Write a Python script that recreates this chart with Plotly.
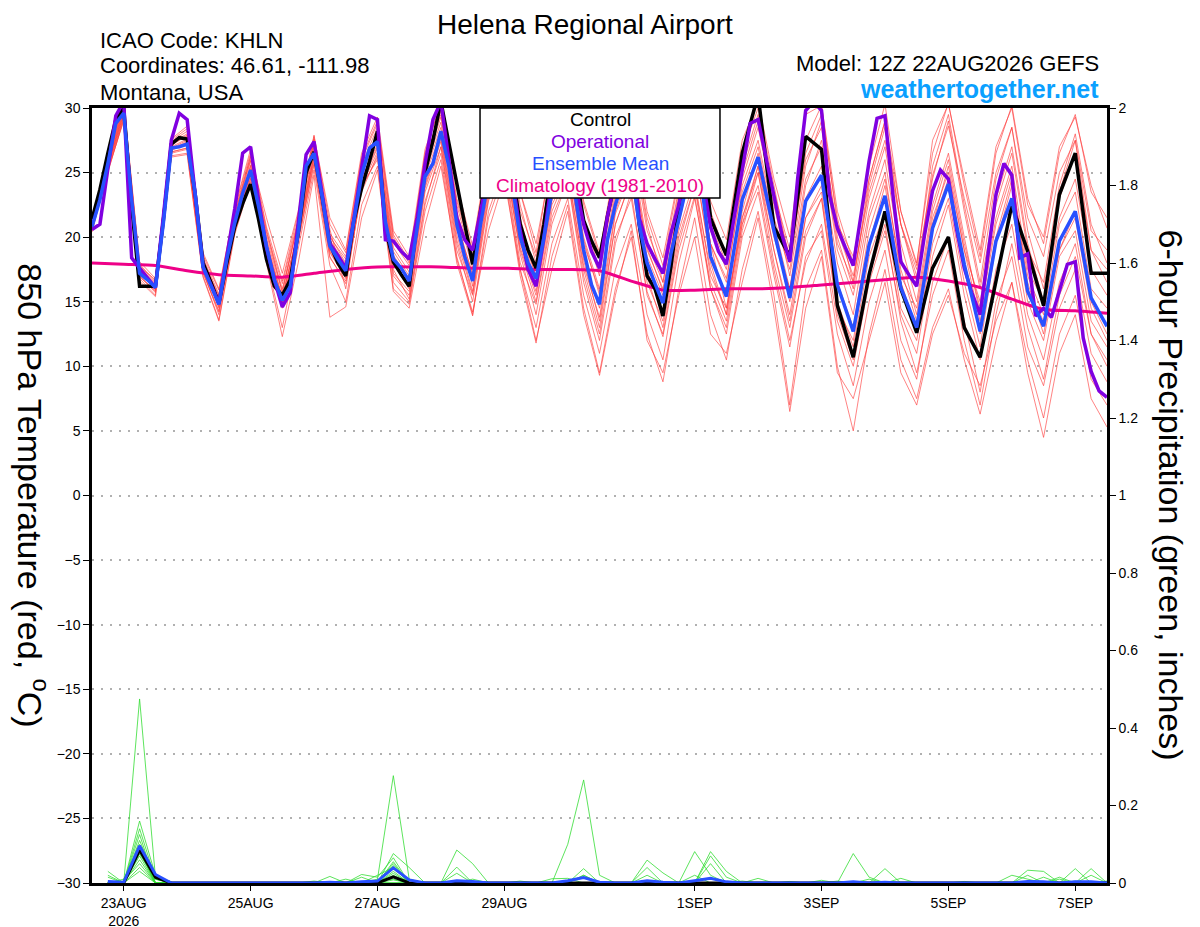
import pandas as pd
import plotly.graph_objects as go

# forecast hours: ensemble 3-hourly to 240h then 6-hourly, operational 3-hourly throughout
hours_ens = list(range(0, 241, 3)) + list(range(246, 385, 6))
hours_oper = list(range(0, 385, 3))
hours_mem = list(range(0, 385, 6))
hours_clim = list(range(0, 385, 12))
hours_pcp = list(range(6, 385, 6))

init = pd.Timestamp("2026-08-22 12:00")


def to_time(hours):
    return [init + pd.Timedelta(hours=h) for h in hours]


# 850 hPa temperature (C)
control_t = [
    21.4, 23.7, 26.5, 29.1, 30.0, 22.4, 16.2, 16.2,
    16.2, 21.3, 27.2, 27.7, 27.6, 23.4, 18.0, 16.5,
    14.9, 18.0, 20.8, 22.6, 24.1, 21.4, 18.3, 16.2,
    15.5, 16.7, 20.3, 25.0, 26.6, 23.2, 19.5, 18.0,
    17.0, 21.2, 23.8, 25.9, 28.2, 20.7, 18.1, 17.1,
    16.2, 21.2, 25.0, 27.5, 30.5, 27.3, 24.2, 20.8,
    17.9, 22.0, 26.0, 28.5, 29.0, 25.0, 21.0, 19.0,
    17.6, 21.0, 25.5, 27.5, 28.5, 25.0, 21.3, 19.7,
    18.4, 21.6, 24.5, 27.0, 28.0, 21.0, 17.0, 16.0,
    13.9, 17.7, 22.3, 26.0, 28.5, 27.0, 21.5, 20.0,
    18.6,
    26.5, 31.0, 20.8, 18.5, 27.8, 26.8, 14.7, 10.7, 17.1, 22.0, 16.0, 12.6,
    17.6, 20.0, 13.0, 10.7, 16.6, 22.5, 18.9, 14.7, 23.3, 26.5, 17.2, 17.2,
]

mean_t = [
    20.8, 22.9, 25.7, 28.8, 29.6, 22.9, 17.2, 16.7,
    16.1, 21.1, 26.9, 27.0, 27.2, 23.4, 17.7, 16.3,
    14.8, 18.3, 21.1, 23.4, 25.2, 22.4, 19.3, 16.7,
    15.1, 16.2, 20.3, 25.5, 26.5, 23.2, 19.3, 18.3,
    17.4, 21.2, 24.8, 26.9, 27.4, 21.2, 18.3, 17.6,
    16.6, 20.7, 24.7, 25.7, 28.2, 25.5, 21.0, 18.5,
    16.6, 21.0, 24.5, 26.5, 27.5, 24.0, 20.0, 18.0,
    16.8, 20.0, 23.5, 25.5, 26.5, 23.0, 19.0, 16.3,
    14.8, 19.8, 22.5, 24.5, 25.5, 21.0, 18.0, 16.4,
    14.9, 18.7, 21.5, 24.0, 25.5, 23.5, 18.5, 16.9,
    15.4,
    22.9, 26.2, 20.5, 15.3, 22.8, 24.8, 16.3, 12.7, 19.4, 23.2, 16.1, 13.0,
    20.7, 24.1, 17.9, 12.7, 19.7, 23.0, 15.8, 13.1, 19.7, 22.0, 15.3, 13.1,
]

oper_t = [
    20.6, 21.0, 25.3, 29.4, 30.5, 18.4, 17.6, 16.8,
    16.1, 21.6, 27.5, 29.6, 29.1, 23.4, 17.7, 16.3,
    14.9, 18.5, 22.2, 26.5, 27.0, 22.9, 19.2, 16.7,
    14.6, 15.7, 20.8, 26.4, 27.4, 23.4, 19.5, 18.6,
    17.6, 21.3, 25.4, 29.4, 29.1, 19.8, 19.7, 18.9,
    18.3, 21.5, 25.7, 29.1, 30.5, 26.0, 21.5, 19.8,
    19.0, 22.0, 25.0, 27.5, 28.5, 24.5, 20.5, 17.5,
    16.2, 20.0, 24.5, 27.0, 28.0, 24.0, 21.0, 18.9,
    17.6, 21.6, 24.5, 26.5, 27.5, 21.5, 19.5, 18.3,
    17.2, 20.3, 22.5, 25.5, 27.0, 24.5, 20.8, 18.9,
    17.9, 21.6, 25.4, 28.8, 29.1, 26.3, 23.2, 20.2,
    18.1, 24.6, 29.8, 30.5, 29.8, 23.3, 20.7, 19.2,
    17.8, 21.8, 25.9, 29.2, 29.4, 23.3, 18.1, 17.1,
    16.2, 20.2, 23.6, 25.2, 24.5, 20.7, 17.6, 15.6,
    14.0, 18.7, 23.3, 25.7, 24.8, 18.4, 18.7, 13.9,
    14.5, 13.8, 15.8, 17.9, 18.1, 12.2, 9.6, 8.1,
    7.6,
]

clim_t = [
    18.0, 17.9, 17.8, 17.4, 17.1, 17.0, 16.9, 17.2, 17.5, 17.7, 17.7,
    17.7, 17.6, 17.6, 17.5, 17.5, 17.4, 16.6, 15.9, 15.9, 16.0, 16.0,
    16.1, 16.3, 16.5, 16.7, 16.9, 16.6, 16.1, 15.2, 14.4, 14.3, 14.1,
]

# ensemble members, 6-hourly
members_t = [
    [21.0, 26.2, 30.4, 17.8, 16.5, 27.3, 28.0, 18.3, 15.3, 21.8, 26.0, 20.2,
     16.0, 21.0, 27.4, 20.0, 18.3, 25.6, 28.5, 19.6, 17.8, 25.9, 29.8, 22.5,
     18.0, 25.8, 29.0, 22.0, 18.5, 25.0, 28.3, 21.0, 17.0, 24.5, 27.8, 20.5,
     17.2, 23.8, 28.0, 21.0, 18.0, 25.0, 29.0, 23.0, 18.5, 26.0, 28.5, 20.5,
     17.0, 23.5, 27.5, 21.0, 17.5, 24.8, 28.6, 23.0, 18.0, 25.0, 28.5, 21.5,
     18.5, 25.0, 27.5, 20.5, 19.0],
    [20.5, 25.0, 29.2, 17.0, 15.8, 26.5, 26.8, 17.2, 14.2, 20.5, 24.6, 18.6,
     14.5, 19.6, 25.8, 18.5, 16.4, 23.8, 26.2, 17.0, 15.5, 23.5, 27.0, 19.5,
     15.0, 22.8, 25.8, 18.0, 14.8, 21.5, 24.6, 17.0, 12.5, 20.0, 23.0, 15.8,
     12.3, 19.0, 23.2, 16.0, 12.5, 20.0, 23.5, 17.0, 11.5, 18.5, 20.5, 12.5,
     8.5, 15.0, 19.0, 12.0, 9.0, 16.5, 20.0, 13.5, 8.0, 15.0, 18.5, 11.5,
     8.5, 14.5, 17.5, 11.0, 8.8],
    [20.9, 25.8, 29.9, 17.5, 16.2, 27.0, 27.6, 17.9, 14.6, 21.3, 25.5, 19.7,
     15.4, 20.6, 26.9, 19.8, 17.9, 25.2, 27.8, 18.9, 17.0, 25.3, 28.9, 21.6,
     16.2, 24.0, 26.6, 19.2, 15.5, 22.5, 25.0, 17.8, 13.8, 21.8, 25.0, 17.5,
     14.0, 21.0, 26.5, 19.5, 16.5, 24.5, 28.5, 22.5, 17.0, 24.5, 27.0, 19.0,
     15.5, 22.0, 26.0, 18.5, 14.0, 21.5, 25.0, 19.0, 13.5, 20.0, 22.5, 15.0,
     12.0, 18.5, 20.5, 13.5, 11.5],
    [20.6, 25.4, 29.3, 16.9, 15.9, 26.6, 26.9, 17.4, 14.0, 20.8, 24.8, 18.9,
     14.8, 19.9, 26.0, 18.8, 16.8, 24.0, 26.6, 17.5, 15.2, 22.8, 26.5, 18.5,
     14.0, 22.0, 25.5, 17.5, 13.0, 19.5, 23.0, 15.5, 11.0, 17.5, 21.0, 14.0,
     10.5, 18.0, 23.0, 16.5, 13.5, 21.0, 25.5, 20.0, 16.0, 24.0, 27.5, 19.5,
     16.5, 24.0, 28.5, 21.0, 17.0, 24.5, 29.0, 22.0, 16.0, 23.0, 27.0, 19.5,
     15.0, 23.5, 27.5, 19.0, 16.5],
    [21.2, 26.0, 30.1, 17.6, 16.4, 27.1, 27.9, 18.0, 15.5, 21.6, 25.9, 19.9,
     15.8, 21.3, 27.5, 20.3, 18.5, 26.0, 28.8, 20.0, 18.0, 26.5, 30.5, 23.0,
     19.0, 26.5, 29.8, 23.5, 19.5, 26.0, 29.5, 22.5, 18.5, 25.5, 28.5, 21.0,
     16.5, 23.0, 27.0, 19.5, 14.5, 21.0, 24.0, 17.5, 12.0, 18.0, 21.0, 13.5,
     10.0, 16.5, 20.5, 14.0, 11.0, 18.5, 22.5, 15.5, 10.5, 17.5, 21.0, 14.0,
     10.5, 16.5, 19.5, 12.5, 10.0],
    [20.7, 25.6, 29.5, 17.3, 16.0, 26.8, 27.4, 17.6, 14.9, 21.2, 25.3, 19.4,
     15.3, 20.4, 26.7, 19.6, 17.6, 25.0, 27.6, 18.6, 16.8, 25.0, 28.5, 21.3,
     17.0, 25.0, 28.0, 20.8, 17.5, 24.5, 27.5, 20.0, 16.0, 24.0, 27.0, 19.5,
     16.5, 23.5, 27.5, 20.5, 17.5, 25.5, 29.5, 23.5, 19.0, 27.5, 30.2, 22.0,
     18.0, 25.5, 30.3, 22.0, 18.0, 26.5, 30.4, 24.0, 18.5, 26.5, 30.2, 23.0,
     19.5, 26.5, 29.5, 23.5, 21.5],
    [20.4, 25.2, 29.0, 16.8, 15.5, 26.3, 26.5, 17.0, 13.6, 20.4, 24.5, 18.2,
     13.0, 19.0, 25.2, 17.8, 15.0, 22.5, 25.5, 16.0, 14.8, 22.0, 26.0, 18.0,
     13.9, 21.5, 25.0, 17.0, 11.8, 18.5, 22.5, 14.5, 9.5, 16.0, 20.0, 12.5,
     8.8, 16.0, 21.5, 14.0, 10.5, 17.5, 22.0, 15.5, 7.0, 16.0, 19.0, 10.0,
     5.0, 12.5, 17.5, 10.5, 7.5, 13.0, 16.0, 10.5, 6.3, 12.0, 16.5, 9.5,
     4.5, 11.0, 14.0, 7.5, 5.3],
    [20.8, 25.7, 29.7, 17.1, 16.1, 26.9, 27.1, 17.6, 14.7, 21.0, 25.1, 19.1,
     14.9, 20.2, 26.4, 19.2, 17.2, 24.6, 27.2, 18.1, 16.3, 24.2, 27.8, 20.6,
     16.9, 25.2, 28.6, 20.8, 16.3, 23.0, 26.0, 18.5, 14.5, 22.0, 25.5, 18.5,
     15.5, 22.5, 26.0, 18.0, 14.0, 22.0, 26.5, 20.5, 15.0, 21.5, 24.0, 16.5,
     13.0, 20.5, 24.5, 17.5, 13.5, 21.0, 24.5, 18.0, 12.5, 20.0, 24.5, 17.0,
     14.0, 21.0, 23.5, 16.0, 14.5],
    [21.1, 26.4, 30.3, 17.9, 16.6, 27.4, 28.2, 18.4, 15.6, 22.0, 26.2, 20.4,
     16.4, 21.4, 27.6, 20.6, 16.0, 24.0, 26.0, 16.5, 15.0, 22.5, 27.0, 19.0,
     15.5, 23.0, 26.0, 19.0, 15.0, 22.0, 25.0, 17.5, 13.0, 21.0, 24.5, 16.5,
     13.5, 20.5, 24.5, 17.0, 14.5, 21.5, 25.0, 19.0, 14.0, 21.5, 23.5, 15.0,
     11.5, 18.5, 22.0, 14.5, 12.0, 19.5, 23.0, 16.5, 11.5, 19.5, 24.0, 16.5,
     12.5, 19.0, 21.5, 14.5, 12.0],
    [20.9, 25.9, 30.0, 17.4, 16.3, 27.2, 27.8, 18.1, 15.1, 21.7, 26.3, 21.5,
     17.2, 22.0, 27.8, 21.5, 19.0, 26.5, 29.3, 20.5, 18.5, 26.8, 30.3, 24.0,
     19.3, 26.8, 30.0, 23.5, 18.8, 26.5, 29.8, 22.8, 18.8, 25.8, 29.0, 22.0,
     18.4, 24.8, 29.3, 22.8, 19.8, 27.5, 30.5, 24.5, 20.0, 29.5, 30.2, 21.0,
     18.5, 24.5, 29.0, 22.0, 17.8, 27.5, 30.3, 24.5, 19.0, 27.0, 30.0, 22.5,
     20.0, 27.0, 29.3, 24.0, 20.7],
    [20.5, 25.3, 29.4, 17.0, 15.7, 26.6, 26.9, 17.3, 14.3, 20.7, 24.9, 18.7,
     14.6, 19.7, 25.6, 18.4, 16.6, 23.5, 26.4, 17.2, 15.8, 23.8, 27.4, 19.8,
     15.6, 23.4, 26.5, 18.7, 14.0, 21.0, 24.5, 16.5, 12.0, 19.5, 23.5, 15.5,
     12.5, 19.5, 24.0, 16.0, 13.0, 20.5, 25.0, 18.0, 13.0, 20.0, 23.0, 14.0,
     10.5, 17.0, 21.0, 13.5, 9.5, 15.5, 19.0, 12.0, 7.0, 14.0, 19.5, 13.0,
     9.0, 15.5, 18.5, 12.5, 10.5],
    [20.6, 25.1, 29.1, 16.6, 15.4, 26.2, 26.4, 16.9, 13.5, 20.2, 24.3, 18.0,
     12.3, 18.0, 24.8, 13.8, 14.6, 21.5, 25.2, 15.8, 14.5, 21.0, 25.5, 18.3,
     14.2, 20.5, 24.5, 17.5, 12.0, 17.5, 22.0, 14.0, 9.3, 15.5, 20.5, 12.0,
     9.5, 15.5, 20.0, 12.5, 11.0, 16.5, 21.5, 14.5, 6.5, 14.5, 18.5, 9.5,
     7.5, 12.0, 16.5, 9.5, 7.0, 12.5, 15.5, 11.0, 8.5, 13.5, 16.5, 10.5,
     6.0, 12.5, 15.5, 9.0, 7.0],
    [21.0, 26.1, 30.2, 17.7, 16.7, 27.5, 28.4, 18.6, 15.9, 22.2, 26.5, 20.6,
     15.7, 21.2, 27.2, 20.1, 18.0, 25.4, 28.0, 19.2, 17.3, 25.6, 29.3, 22.0,
     17.6, 25.5, 28.5, 21.5, 16.8, 24.0, 27.0, 19.8, 15.5, 23.5, 26.5, 19.0,
     16.0, 22.5, 26.5, 19.5, 16.8, 24.0, 27.5, 21.5, 17.5, 25.5, 29.0, 20.0,
     16.0, 23.0, 27.0, 19.5, 15.0, 22.5, 26.5, 20.0, 14.0, 21.0, 25.0, 16.0,
     13.5, 19.0, 22.0, 15.0, 12.5],
    [20.7, 25.5, 29.6, 17.2, 16.0, 26.9, 27.5, 17.7, 14.8, 21.4, 25.6, 19.5,
     15.2, 20.5, 26.2, 19.0, 17.0, 24.5, 27.0, 18.5, 16.5, 24.8, 28.0, 21.0,
     17.2, 25.0, 28.2, 20.5, 17.0, 23.8, 26.5, 19.5, 15.8, 23.0, 26.0, 19.2,
     15.8, 22.0, 25.5, 18.5, 15.5, 23.5, 27.0, 21.0, 16.0, 23.0, 25.5, 18.0,
     14.0, 21.5, 25.0, 17.0, 14.5, 22.0, 26.0, 19.5, 14.5, 21.5, 25.5, 17.5,
     15.0, 21.5, 24.5, 17.5, 15.5],
    [20.8, 25.6, 29.8, 17.2, 16.2, 26.7, 27.3, 17.8, 14.5, 21.0, 25.0, 18.8,
     14.7, 20.0, 26.3, 18.9, 16.9, 24.2, 26.9, 17.9, 16.0, 24.0, 27.6, 20.2,
     15.8, 23.8, 27.0, 19.5, 15.8, 22.8, 25.8, 18.2, 13.5, 21.0, 24.5, 17.0,
     13.0, 20.0, 24.0, 17.5, 14.0, 21.5, 25.5, 19.0, 13.5, 20.5, 23.0, 14.5,
     12.0, 19.5, 24.0, 16.5, 13.0, 21.0, 25.5, 19.0, 15.0, 22.5, 26.5, 19.0,
     16.5, 24.0, 28.0, 21.0, 18.0],
    [21.3, 26.6, 30.5, 18.1, 16.8, 27.6, 28.6, 18.8, 16.0, 22.3, 26.8, 20.8,
     16.6, 21.8, 27.9, 21.0, 18.8, 26.2, 29.0, 20.2, 18.2, 26.2, 29.5, 22.8,
     18.6, 26.0, 29.2, 22.5, 18.0, 25.5, 28.5, 21.5, 17.5, 24.8, 28.0, 21.5,
     17.8, 24.5, 28.8, 22.0, 18.5, 26.5, 30.0, 24.0, 18.0, 26.5, 29.5, 21.5,
     16.5, 24.5, 29.0, 21.0, 16.5, 25.5, 29.5, 22.5, 16.5, 24.5, 28.5, 20.5,
     16.0, 23.0, 26.5, 19.0, 17.5],
]

# 6-hour precipitation (inches), only non-zero periods listed, keyed by forecast hour
members_p = [
    {6: 0.03, 18: 0.475, 24: 0.015, 108: 0.01, 114: 0.277, 120: 0.01, 186: 0.02},
    {18: 0.16, 24: 0.02, 114: 0.076, 120: 0.04, 138: 0.085, 144: 0.05},
    {18: 0.14, 24: 0.01, 102: 0.022, 108: 0.015, 114: 0.065, 180: 0.1, 186: 0.266, 192: 0.02},
    {6: 0.02, 18: 0.125, 114: 0.055, 210: 0.059, 216: 0.026, 234: 0.081, 240: 0.03},
    {18: 0.11, 24: 0.012, 90: 0.017, 114: 0.05, 228: 0.081, 234: 0.02, 288: 0.076, 294: 0.015},
    {18: 0.10, 114: 0.045, 138: 0.041, 186: 0.037, 234: 0.07, 240: 0.015, 354: 0.033, 360: 0.03},
    {12: 0.01, 18: 0.095, 24: 0.01, 108: 0.02, 114: 0.04, 144: 0.01, 210: 0.04, 300: 0.037, 372: 0.037},
    {18: 0.09, 114: 0.03, 174: 0.011, 180: 0.012, 234: 0.05, 252: 0.012, 378: 0.037},
    {6: 0.015, 18: 0.085, 96: 0.01, 114: 0.025, 138: 0.025, 210: 0.02, 306: 0.012, 354: 0.02, 366: 0.015},
    {18: 0.08, 102: 0.015, 114: 0.02, 186: 0.02, 348: 0.02, 354: 0.01, 378: 0.02},
    {18: 0.075, 24: 0.01, 114: 0.015, 228: 0.02, 360: 0.015, 372: 0.005},
    {18: 0.07, 108: 0.008, 114: 0.01, 282: 0.005, 294: 0.01},
    {18: 0.06, 114: 0.008, 246: 0.005, 366: 0.01},
    {12: 0.005, 18: 0.05, 162: 0.005, 264: 0.004},
    {18: 0.04, 84: 0.005, 330: 0.004},
    {18: 0.03, 276: 0.007, 384: 0.005},
]
mean_p = {6: 0.004, 12: 0.002, 18: 0.096, 24: 0.022, 90: 0.002, 102: 0.003, 108: 0.005,
          114: 0.039, 120: 0.008, 138: 0.006, 144: 0.004, 180: 0.006, 186: 0.014, 192: 0.002,
          210: 0.006, 216: 0.002, 228: 0.006, 234: 0.012, 240: 0.003, 288: 0.003,
          300: 0.002, 354: 0.004, 360: 0.003, 372: 0.003, 378: 0.003}
control_p = {18: 0.085, 24: 0.015, 114: 0.016}

tick_days = ["2026-08-23", "2026-08-25", "2026-08-27", "2026-08-29",
             "2026-09-01", "2026-09-03", "2026-09-05", "2026-09-07"]
tick_text = ["23AUG<br>2026", "25AUG", "27AUG", "29AUG", "1SEP", "3SEP", "5SEP", "7SEP"]

legend_names = ["Control", "Operational", "Ensemble Mean", "Climatology (1981-2010)"]

RED = "rgba(255,60,60,0.8)"
GREEN = "#33dd33"
PURPLE = "#8000e0"
BLUE = "#2850ff"
PINK = "#ee0088"
FONT = "Liberation Sans, Arial, sans-serif"

fig = go.Figure()

# precipitation on the right axis
t_pcp = to_time(hours_pcp)
for m in members_p:
    fig.add_trace(go.Scatter(x=t_pcp, y=[m.get(h, 0.0) for h in hours_pcp], yaxis="y2",
                             mode="lines", line=dict(color=GREEN, width=0.8)))
fig.add_trace(go.Scatter(x=t_pcp, y=[control_p.get(h, 0.0) for h in hours_pcp], yaxis="y2",
                         mode="lines", line=dict(color="black", width=3)))
fig.add_trace(go.Scatter(x=t_pcp, y=[mean_p.get(h, 0.0) for h in hours_pcp], yaxis="y2",
                         mode="lines", line=dict(color=BLUE, width=3)))

# temperature on the left axis
t_mem = to_time(hours_mem)
for m in members_t:
    fig.add_trace(go.Scatter(x=t_mem, y=m, mode="lines", line=dict(color=RED, width=0.8)))
fig.add_trace(go.Scatter(x=to_time(hours_clim), y=clim_t, mode="lines",
                         line=dict(color=PINK, width=3, shape="spline", smoothing=0.6)))
fig.add_trace(go.Scatter(x=to_time(hours_ens), y=control_t, mode="lines",
                         line=dict(color="black", width=3.5)))
fig.add_trace(go.Scatter(x=to_time(hours_oper), y=oper_t, mode="lines",
                         line=dict(color=PURPLE, width=3.5)))
fig.add_trace(go.Scatter(x=to_time(hours_ens), y=mean_t, mode="lines",
                         line=dict(color=BLUE, width=3.5)))

# margins allow for the page's 8px body offset
fig.update_layout(
    width=1200, height=927,
    margin=dict(l=84, r=101, t=100, b=52),
    plot_bgcolor="white", paper_bgcolor="white",
    showlegend=False,
    font=dict(family=FONT, color="black"),
    xaxis=dict(type="date", range=[init, init + pd.Timedelta(hours=384)],
               tickvals=tick_days, ticktext=tick_text, ticks="outside", ticklen=5,
               tickcolor="black", tickfont=dict(size=14), showgrid=False, automargin=False,
               showline=True, linewidth=2.5, linecolor="black", mirror=True),
    yaxis=dict(range=[-30, 30], tick0=-30, dtick=5, ticks="outside", ticklen=6,
               tickcolor="black", tickfont=dict(size=14), showgrid=True, automargin=False,
               gridcolor="#b0b0b0", griddash="2px,7px", gridwidth=1.5, zeroline=False,
               showline=True, linewidth=2.5, linecolor="black", mirror=True),
    yaxis2=dict(range=[0, 2], tick0=0, dtick=0.2, overlaying="y", side="right",
                ticks="outside", ticklen=6, tickcolor="black", tickfont=dict(size=14),
                showgrid=False, zeroline=False, showline=True, linewidth=2.5,
                linecolor="black", automargin=False),
)

# title hangs from the top edge of the figure
fig.add_annotation(text="Helena Regional Airport", xref="paper", yref="paper",
                   x=0.4857, y=1.129, xanchor="center", yanchor="top", showarrow=False,
                   borderpad=0, font=dict(size=28, color="black", family=FONT))

notes = [
    dict(text="ICAO Code: KHLN", x=0.006, y=1.0877, xanchor="left"),
    dict(text="Coordinates: 46.61, -111.98", x=0.006, y=1.0542, xanchor="left"),
    dict(text="Montana, USA", x=0.006, y=1.0206, xanchor="left"),
    dict(text="Model: 12Z 22AUG2026 GEFS", x=0.9941, y=1.0568, xanchor="right"),
]
for n in notes:
    fig.add_annotation(text=n["text"], xref="paper", yref="paper", x=n["x"], y=n["y"],
                       xanchor=n["xanchor"], yanchor="middle", showarrow=False,
                       font=dict(size=22, color="black", family=FONT))

fig.add_annotation(text="<b>weathertogether.net</b>", xref="paper", yref="paper",
                   x=0.9941, y=1.0245, xanchor="right", yanchor="middle", showarrow=False,
                   font=dict(size=25, color="#0aa0ff", family=FONT))

fig.add_annotation(text="850 hPa Temperature (red, <sup>o</sup>C)", xref="paper", yref="paper",
                   x=-0.058, y=0.5, xanchor="center", yanchor="middle", textangle=90,
                   showarrow=False, font=dict(size=34, color="black", family=FONT))
fig.add_annotation(text="6-hour Precipitation (green, inches)", xref="paper", yref="paper",
                   x=1.064, y=0.5, xanchor="center", yanchor="middle", textangle=90,
                   showarrow=False, font=dict(size=34, color="black", family=FONT))

# legend box: white rectangle with coloured names
fig.add_shape(type="rect", xref="paper", yref="paper", x0=0.3823, x1=0.6187,
              y0=0.8839, y1=1.0, fillcolor="white", line=dict(color="black", width=1.5),
              layer="above")
legend_colors = ["black", PURPLE, BLUE, PINK]
legend_y = [0.9858, 0.9574, 0.9290, 0.8994]
for name, col, yy in zip(legend_names, legend_colors, legend_y):
    fig.add_annotation(text=name, xref="paper", yref="paper", x=0.5005, y=yy,
                       xanchor="center", yanchor="middle", showarrow=False,
                       font=dict(size=19, color=col, family=FONT))

fig.write_html("out.html")
